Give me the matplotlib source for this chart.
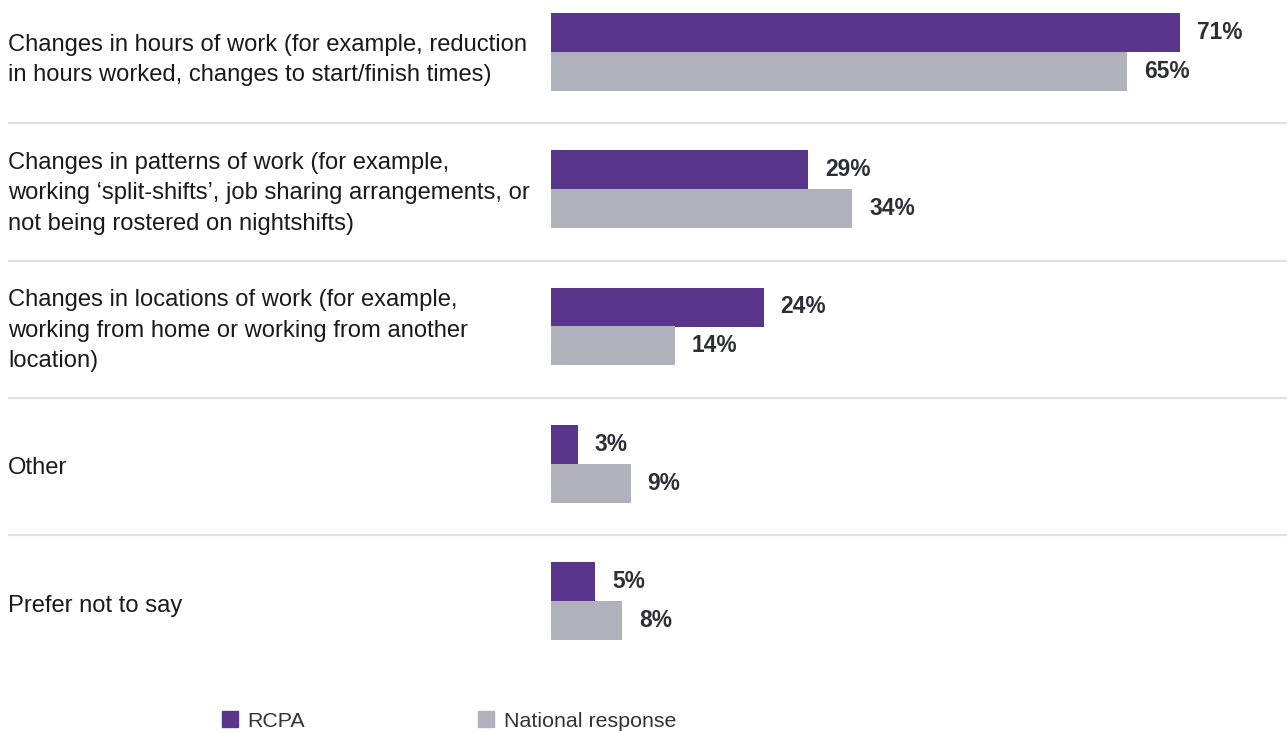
import matplotlib
matplotlib.use("Agg")
import matplotlib.pyplot as plt
import matplotlib.transforms as mtransforms
from matplotlib.lines import Line2D
from matplotlib.patches import Patch

categories = [
    "Changes in hours of work (for example, reduction\nin hours worked, changes to start/finish times)",
    "Changes in patterns of work (for example,\nworking \u2018split-shifts\u2019, job sharing arrangements, or\nnot being rostered on nightshifts)",
    "Changes in locations of work (for example,\nworking from home or working from another\nlocation)",
    "Other",
    "Prefer not to say",
]
rcpa = [71, 29, 24, 3, 5]
national = [65, 34, 14, 9, 8]
series_names = ["RCPA", "National response"]

PURPLE = "#5A358C"
GREY = "#B1B1BC"
VALCOL = "#2E2E38"
TXT = "#1A1A1A"

plt.rcParams['font.family'] = ['Liberation Sans', 'DejaVu Sans']

W, H = 1287, 733
fig = plt.figure(figsize=(W / 100, H / 100), dpi=100)
left = 551 / W
ax = fig.add_axes([left, 0, 1 - left, 1])

px_per_unit = 137.25
bar_h = 39 / px_per_unit
ytop = -52 / px_per_unit
ybot = (H - 52) / px_per_unit
ax.set_ylim(ybot, ytop)
ax.set_xlim(0, (W - 551) / 8.86)
ax.axis('off')

idx = list(range(len(categories)))
b1 = ax.barh([i - bar_h / 2 for i in idx], rcpa, height=bar_h, color=PURPLE, linewidth=0)
b2 = ax.barh([i + bar_h / 2 for i in idx], national, height=bar_h, color=GREY, linewidth=0)

off = 17 / 8.86
for i in idx:
    ax.text(rcpa[i] + off, i - bar_h / 2, f"{rcpa[i]}%", va='center', ha='left',
            fontsize=16.4, fontweight='bold', color=VALCOL)
    ax.text(national[i] + off, i + bar_h / 2, f"{national[i]}%", va='center', ha='left',
            fontsize=16.4, fontweight='bold', color=VALCOL)

blend = mtransforms.blended_transform_factory(fig.transFigure, ax.transData)
label_offsets = [0.06, 0.03, 0.03, 0.03, 0.04]
for i, cat in enumerate(categories):
    ax.text(8 / W, i + label_offsets[i], cat, transform=blend, va='center', ha='left',
            fontsize=17.1, color=TXT, linespacing=1.5, clip_on=False)

for i in idx[:-1]:
    ln = Line2D([9 / W, 1], [i + 0.52, i + 0.52], transform=blend, color="#E0E0E0",
                linewidth=1.5, clip_on=False)
    ax.add_line(ln)

leg_kw = dict(frameon=False, fontsize=15.4, handlelength=0.75, handleheight=0.75,
              handletextpad=0.45, borderpad=0, borderaxespad=0, loc='center left')
fig.legend([Patch(color=PURPLE)], [series_names[0]], bbox_to_anchor=(222 / W, 1 - 721 / H), **leg_kw)
fig.legend([Patch(color=GREY)], [series_names[1]], bbox_to_anchor=(478 / W, 1 - 721 / H), **leg_kw)
for lg in fig.legends:
    for t in lg.get_texts():
        t.set_color("#333333")

fig.savefig("out.png", dpi=100)
